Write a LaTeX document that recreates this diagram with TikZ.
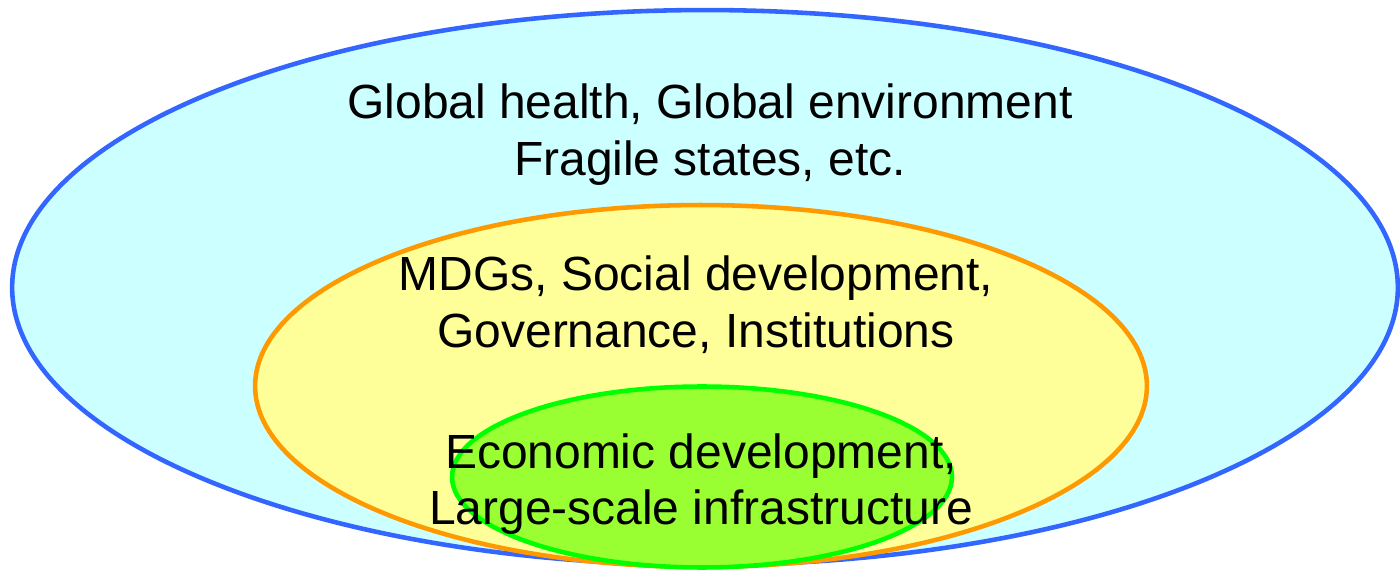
\documentclass[tikz,border=0pt]{standalone}
\usepackage{fontspec}
\setmainfont{Liberation Sans}
\usepackage{tikz}
\usetikzlibrary{shapes.geometric}
\definecolor{cglob}{HTML}{CCFFFF}
\definecolor{cglobD}{HTML}{3366FF}
\definecolor{csoc}{HTML}{FFFF99}
\definecolor{csocD}{HTML}{FF9900}
\definecolor{cecon}{HTML}{99FF33}
\definecolor{ceconD}{HTML}{00FF00}
\tikzset{
  ring/.style={ellipse, inner sep=0pt, line width=2.6pt},
  nglob/.style={ring, fill=cglob, draw=cglobD},
  nsoc/.style={ring, fill=csoc, draw=csocD},
  necon/.style={ring, fill=cecon, draw=ceconD},
  lbl/.style={align=center, inner sep=0pt, font=\fontsize{27.3}{32.3}\selectfont},
}
\begin{document}
\begin{tikzpicture}[x=0.02cm, y=-0.02cm]
  \useasboundingbox (0,0) rectangle (1400,570);
  % nested rings
  \node[nglob, minimum width=27.72cm, minimum height=11.1cm] (glob) at (705,287.5) {};
  \node[nsoc, minimum width=17.84cm, minimum height=7.24cm] (soc) at (701,386) {};
  \node[necon, minimum width=10cm, minimum height=3.62cm] (econ) at (702,477) {};
  % labels
  \node[lbl] (globtxt) at (710,134.5) {Global health, Global environment\\Fragile states, etc.};
  \node[lbl] (soctxt) at (696,305) {MDGs, Social development,\\Governance, Institutions};
  \node[lbl] (econtxt) at (701,484) {Economic development,\\Large-scale infrastructure};
\end{tikzpicture}
\end{document}
